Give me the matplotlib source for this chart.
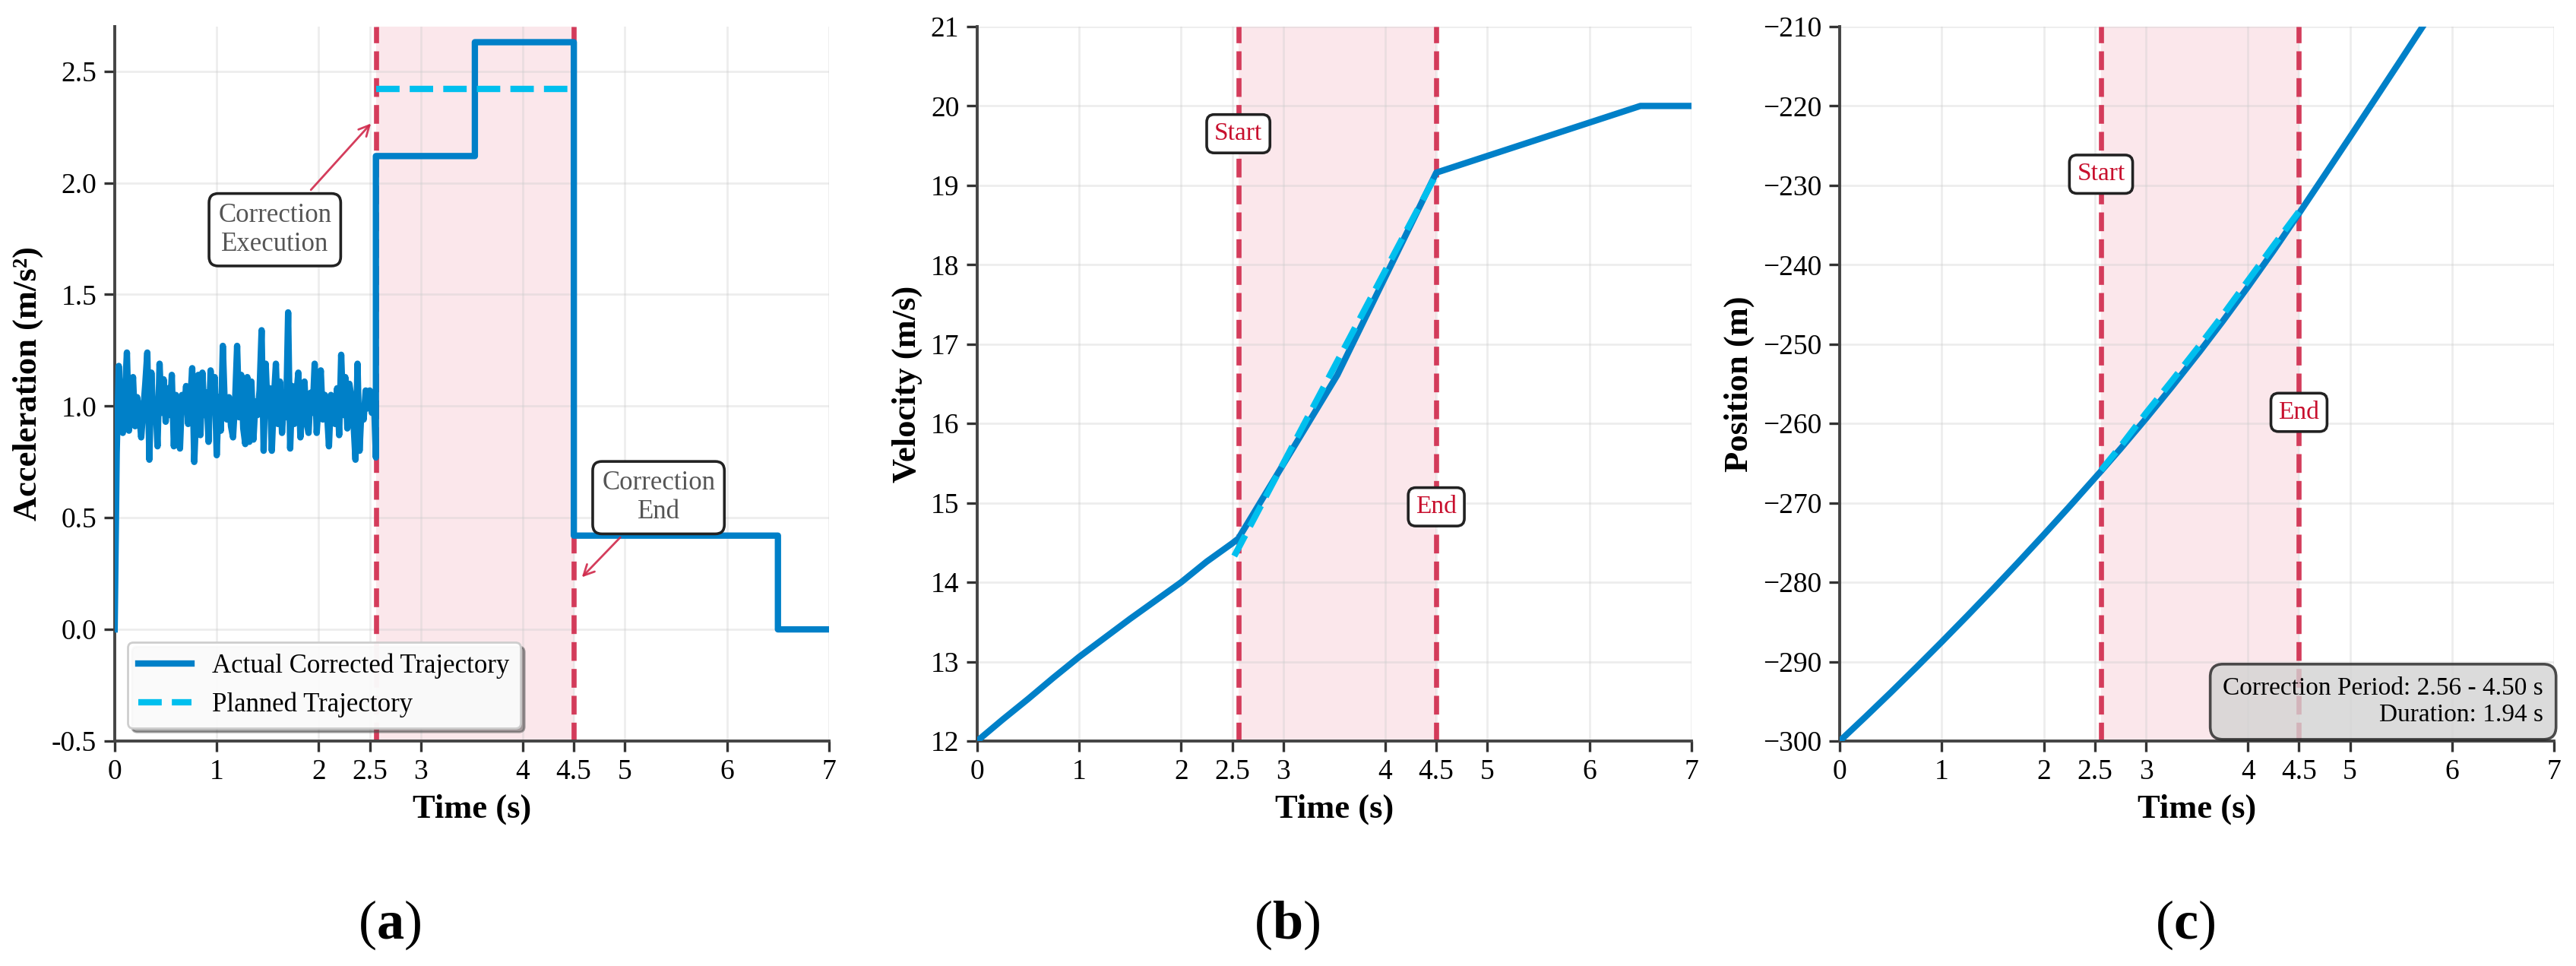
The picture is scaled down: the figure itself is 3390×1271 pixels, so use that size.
"""
Trajectory correction: acceleration, velocity and position vs time
"""
import numpy as np
import matplotlib
matplotlib.use('Agg')
import matplotlib.pyplot as plt

plt.rcParams['font.family'] = ['Liberation Serif', 'DejaVu Serif']
plt.rcParams['mathtext.fontset'] = 'custom'
plt.rcParams['mathtext.rm'] = 'Liberation Serif'
plt.rcParams['mathtext.bf'] = 'Liberation Serif:bold'

# DATA
#####################
t_start = 2.56
t_end = 4.50

# measured acceleration before the correction (every 0.02 s from t = 0)
acc_noise = [
    0.00, 0.79, 1.18, 0.95, 0.88, 1.05, 1.24, 0.89, 1.00, 1.13,
    0.91, 1.04, 0.97, 0.86, 0.98, 1.10, 1.24, 0.76, 1.15, 0.93,
    1.02, 0.82, 1.19, 0.97, 1.12, 0.93, 1.08, 0.96, 1.14, 0.82,
    1.05, 0.90, 0.81, 1.05, 0.98, 1.09, 0.92, 1.02, 1.17, 0.75,
    0.98, 1.14, 0.87, 1.15, 0.96, 1.06, 0.84, 1.16, 0.99, 1.13,
    0.78, 1.04, 0.89, 1.27, 0.99, 0.94, 1.04, 0.91, 0.86, 1.02,
    1.27, 0.95, 1.14, 0.90, 0.83, 1.13, 0.84, 1.11, 0.85, 1.02,
    0.96, 1.07, 1.34, 0.80, 1.19, 0.97, 1.08, 0.80, 1.03, 1.19,
    0.92, 1.11, 0.88, 1.03, 0.95, 1.42, 0.81, 1.09, 0.92, 1.05,
    1.15, 0.86, 1.01, 1.11, 0.93, 0.88, 1.06, 0.97, 1.19, 0.88,
    1.03, 1.16, 0.94, 1.05, 0.98, 0.82, 1.05, 0.99, 0.92, 1.08,
    0.87, 1.23, 0.96, 1.13, 0.90, 1.10, 1.04, 0.93, 0.76, 1.19,
    0.80, 1.00, 0.94, 1.07, 0.99, 1.07, 0.97, 1.05, 0.77,
]
noise_dt = 0.02

# piecewise-constant acceleration from the correction start onwards
step_t = [2.56, 3.53, 4.50, 6.50, 7.00]
step_a = [2.12, 2.63, 0.42, 0.00, 0.00]

plan_acc_t = [2.56, 4.50]
plan_acc = [2.42, 2.42]

vel_t = [0.0, 0.25, 0.5, 0.75, 1.0, 1.25, 1.5, 1.75, 2.0, 2.25, 2.5,
         2.56, 3.53, 4.50, 6.50, 7.00]
vel = [12.00, 12.27, 12.53, 12.80, 13.06, 13.30, 13.54, 13.77, 14.00,
       14.26, 14.49, 14.55, 16.61, 19.16, 20.00, 20.00]

plan_vel_t = [2.52, 4.50]
plan_vel = [14.33, 19.14]

pos_t = [0.0, 0.25, 0.5, 0.75, 1.0, 1.25, 1.5, 1.75, 2.0, 2.25, 2.56,
         2.75, 3.0, 3.25, 3.53, 3.75, 4.0, 4.25, 4.5, 4.75, 5.0, 5.25,
         5.5, 5.75, 6.0]
pos = [-300.00, -296.97, -293.88, -290.72, -287.50, -284.22, -280.88,
       -277.47, -274.00, -270.47, -266.00, -263.20, -259.39, -255.45,
       -250.89, -247.17, -242.79, -238.25, -233.54, -228.74, -223.91,
       -219.05, -214.17, -209.26, -204.33]

plan_pos_t = [2.56, 2.75, 3.0, 3.25, 3.5, 3.75, 4.0, 4.25, 4.5]
plan_pos = [-265.9, -262.9, -258.7, -254.7, -250.6, -246.4, -242.0,
            -237.6, -233.3]

xticks = [0, 1, 2, 2.5, 3, 4, 4.5, 5, 6, 7]
xtick_labels = ['0', '1', '2', '2.5', '3', '4', '4.5', '5', '6', '7']

# STYLE
#####################
c_act = '#0080C8'
c_plan = '#00BFEE'
c_mark = '#D0284A'
lw_line = 3.0


def style_axis(ax, ylim, yticks, ylabel):
    ax.set_xlim(0, 7)
    ax.set_ylim(*ylim)
    ax.set_xticks(xticks)
    ax.set_xticklabels(xtick_labels)
    ax.set_yticks(yticks)
    ax.tick_params(labelsize=13.5, direction='out', length=5, width=1.2,
                   color='#333333')
    ax.set_xlabel('Time (s)', fontsize=16, fontweight='bold', labelpad=4)
    ax.set_ylabel(ylabel, fontsize=16, fontweight='bold')
    ax.grid(True, color='#cccccc', alpha=0.35, lw=1.0)
    ax.set_axisbelow(True)
    for side in ['top', 'right']:
        ax.spines[side].set_visible(False)
    for side in ['left', 'bottom']:
        ax.spines[side].set_color('#444444')
        ax.spines[side].set_linewidth(1.4)
    ax.axvspan(t_start, t_end, color='#DC143C', alpha=0.1, lw=0, zorder=0.5)
    ax.axvline(t_start, color=c_mark, ls='--', lw=2.4, alpha=0.9, zorder=2)
    ax.axvline(t_end, color=c_mark, ls='--', lw=2.4, alpha=0.9, zorder=2)


def marker_label(ax, x, y, txt):
    ax.text(x, y, txt, color='#C8102E', fontsize=12, ha='center',
            va='center', zorder=5,
            bbox=dict(boxstyle='round,pad=0.3', facecolor='white',
                      edgecolor='#222222', lw=1.3))


fig = plt.figure(figsize=(16.955, 6.355), dpi=200)
w, h, b = 0.2772, 0.7396, 0.2329
ax1 = fig.add_axes([0.0445, b, w, h])
ax2 = fig.add_axes([0.3792, b, w, h])
ax3 = fig.add_axes([0.7140, b, w, h])

# (a) acceleration
noise_t = np.round(np.arange(len(acc_noise)) * noise_dt, 2)
st = np.repeat(step_t, 2)[1:]
sa = np.repeat(step_a, 2)[:-1]
acc_t = np.concatenate([noise_t, st])
acc = np.concatenate([acc_noise, sa])

style_axis(ax1, (-0.5, 2.7), np.arange(-0.5, 2.51, 0.5), 'Acceleration (m/s²)')
ax1.set_yticklabels([f'{v:.1f}' for v in np.arange(-0.5, 2.51, 0.5)])
ax1.plot(acc_t, acc, color=c_act, lw=lw_line,
         label='Actual Corrected Trajectory', zorder=3)
ax1.plot(plan_acc_t, plan_acc, color=c_plan, lw=lw_line, ls='--',
         label='Planned Trajectory', zorder=3)
box = dict(boxstyle='round,pad=0.35', facecolor='white', edgecolor='#222222',
           lw=1.3)
arrow = dict(arrowstyle='->', color=c_mark, lw=1.0, alpha=0.9)
ax1.annotate('Correction\nExecution', xy=(2.54, 2.28), xytext=(1.57, 1.79),
             fontsize=12.5, color='#555555', ha='center', va='center',
             bbox=box, arrowprops=arrow, zorder=5)
ax1.annotate('Correction\nEnd', xy=(4.55, 0.22), xytext=(5.33, 0.59),
             fontsize=12.5, color='#555555', ha='center', va='center',
             bbox=box, arrowprops=arrow, zorder=5)
leg = ax1.legend(loc='lower left', fontsize=12.5, fancybox=True, shadow=True,
                 framealpha=0.95, edgecolor='#cccccc')
leg.set_zorder(6)

# (b) velocity
style_axis(ax2, (12, 21), np.arange(12, 22, 1), 'Velocity (m/s)')
ax2.plot(vel_t, vel, color=c_act, lw=lw_line, zorder=3)
ax2.plot(plan_vel_t, plan_vel, color=c_plan, lw=lw_line, ls='--', zorder=3)
marker_label(ax2, t_start, 19.65, 'Start')
marker_label(ax2, t_end, 14.95, 'End')

# (c) position
style_axis(ax3, (-300, -210), np.arange(-300, -209, 10), 'Position (m)')
ax3.plot(pos_t, pos, color=c_act, lw=lw_line, zorder=3)
ax3.plot(plan_pos_t, plan_pos, color=c_plan, lw=lw_line, ls='--', zorder=3)
marker_label(ax3, t_start, -228.6, 'Start')
marker_label(ax3, t_end, -258.6, 'End')
ax3.text(0.985, 0.02, 'Correction Period: 2.56 - 4.50 s\nDuration: 1.94 s',
         transform=ax3.transAxes, ha='right', va='bottom', fontsize=12,
         zorder=6,
         bbox=dict(boxstyle='round,pad=0.5', facecolor='lightgray',
                   alpha=0.8, edgecolor='#222222', lw=1.3))

# panel letters
for x, letter in [(0.151, 'a'), (0.4993, 'b'), (0.848, 'c')]:
    fig.text(x, 0.0425, f'($\\mathbf{{{letter}}}$)', fontsize=26,
             ha='center', va='center')

fig.savefig('out.png', dpi=200)
